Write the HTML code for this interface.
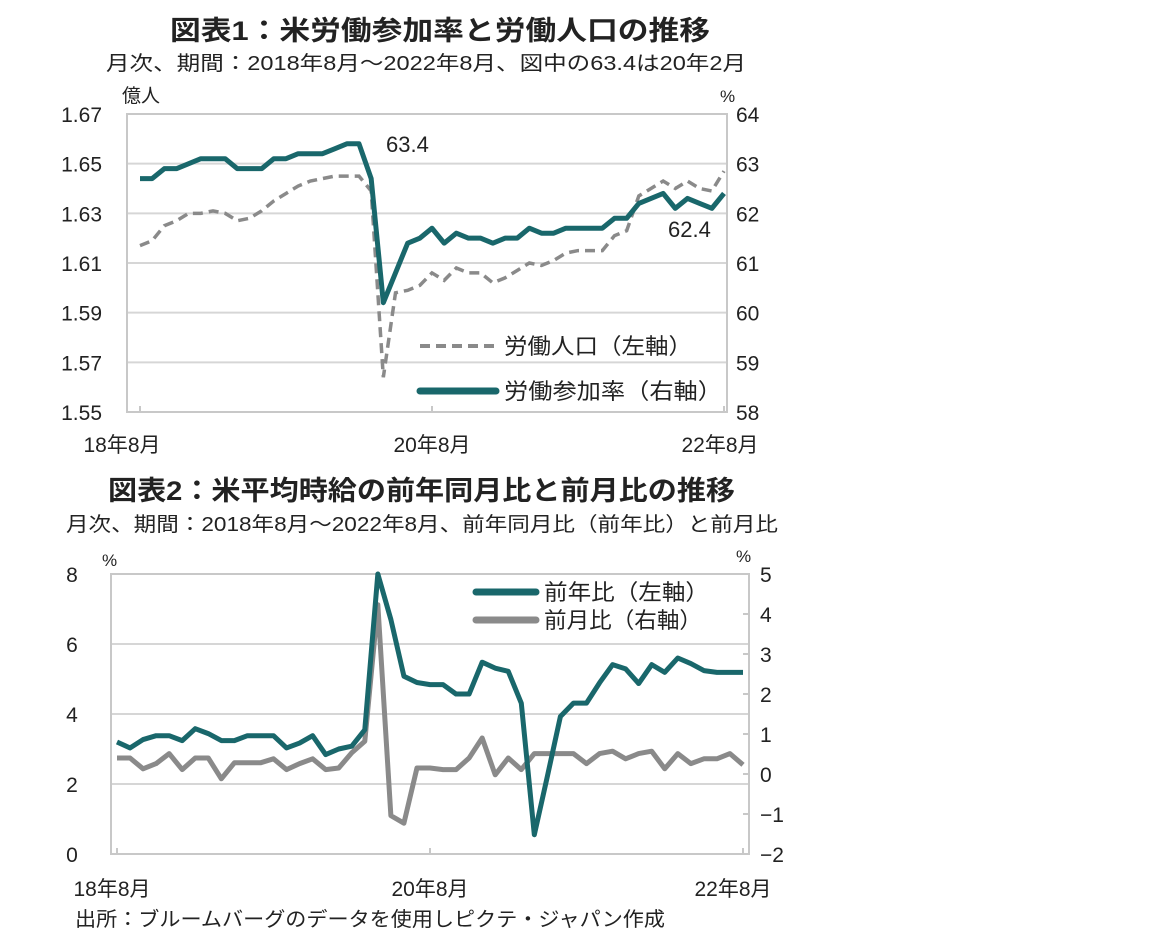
<!DOCTYPE html>
<html><head><meta charset="utf-8">
<style>
body{margin:0;background:#fff;}
svg text{font-family:"Liberation Sans","Noto Sans CJK JP",sans-serif;fill:#222;}
</style></head>
<body>
<svg id="root" width="1152" height="945" viewBox="0 0 1152 945" xmlns="http://www.w3.org/2000/svg">
<text x="170" y="40" font-size="27" font-weight="bold" textLength="540" lengthAdjust="spacingAndGlyphs">図表1：米労働参加率と労働人口の推移</text>
<text x="106" y="70" font-size="20" textLength="640" lengthAdjust="spacingAndGlyphs">月次、期間：2018年8月～2022年8月、図中の63.4は20年2月</text>
<text x="122" y="102" font-size="19">億人</text>
<text x="720" y="102" font-size="17">%</text>
<g id="c1"></g>
<text x="108" y="500" font-size="27" font-weight="bold" textLength="627" lengthAdjust="spacingAndGlyphs">図表2：米平均時給の前年同月比と前月比の推移</text>
<text x="66" y="531" font-size="20" textLength="712" lengthAdjust="spacingAndGlyphs">月次、期間：2018年8月～2022年8月、前年同月比（前年比）と前月比</text>
<text x="102" y="566" font-size="17">%</text>
<text x="736" y="562" font-size="17">%</text>
<g id="c2"></g>
<text x="75" y="926" font-size="20" textLength="590" lengthAdjust="spacingAndGlyphs">出所：ブルームバーグのデータを使用しピクテ・ジャパン作成</text>
</svg>
<script>
const lfprVals=[62.7,62.7,62.9,62.9,63.0,63.1,63.1,63.1,62.9,62.9,62.9,63.1,63.1,63.2,63.2,63.2,63.3,63.4,63.4,62.7,60.2,60.8,61.4,61.5,61.7,61.4,61.6,61.5,61.5,61.4,61.5,61.5,61.7,61.6,61.6,61.7,61.7,61.7,61.7,61.9,61.9,62.2,62.3,62.4,62.1,62.3,62.2,62.1,62.4];
const laborVals=[1.617,1.619,1.625,1.627,1.630,1.630,1.631,1.630,1.627,1.628,1.631,1.635,1.638,1.641,1.643,1.644,1.645,1.645,1.645,1.639,1.564,1.598,1.599,1.601,1.606,1.603,1.608,1.606,1.606,1.602,1.604,1.607,1.610,1.609,1.611,1.614,1.615,1.615,1.615,1.621,1.623,1.637,1.640,1.643,1.640,1.643,1.640,1.639,1.647];
const leftTicks1=[1.55,1.57,1.59,1.61,1.63,1.65,1.67];
const rightTicks1=[58,59,60,61,62,63,64];
const yoyVals=[3.2,3.03,3.27,3.38,3.38,3.24,3.58,3.44,3.24,3.24,3.38,3.38,3.38,3.03,3.17,3.38,2.84,3.0,3.08,3.55,8.0,6.7,5.08,4.9,4.84,4.84,4.57,4.57,5.48,5.31,5.22,4.31,0.55,2.22,3.93,4.31,4.31,4.89,5.41,5.29,4.87,5.41,5.19,5.6,5.44,5.24,5.19,5.19,5.19];
const momVals=[0.4,0.4,0.13,0.26,0.51,0.11,0.4,0.4,-0.12,0.28,0.28,0.28,0.38,0.11,0.26,0.38,0.11,0.15,0.53,0.82,4.23,-1.04,-1.23,0.15,0.15,0.11,0.11,0.4,0.9,-0.02,0.4,0.11,0.51,0.51,0.51,0.51,0.26,0.51,0.57,0.38,0.51,0.57,0.13,0.51,0.26,0.38,0.38,0.51,0.23];
const leftTicks2=[0,2,4,6,8];
const rightTicks2=[-2,-1,0,1,2,3,4,5];
const xLabels=["18年8月","20年8月","22年8月"];
const xLabelIdx=[0,24,48];

const NS="http://www.w3.org/2000/svg";
function mk(p,tag,a){const e=document.createElementNS(NS,tag);for(const k in a)e.setAttribute(k,a[k]);p.appendChild(e);return e;}

// Chart 1
(function(){
const g=document.getElementById('c1');
const L=127,R=727,T=114,B=412,x0=140,x1=724;
const x=i=>x0+(x1-x0)*i/(lfprVals.length-1);
const yL=v=>B-(v-1.55)/(0.12)*(B-T);
const yR=v=>B-(v-58)/6*(B-T);
leftTicks1.forEach(v=>{
 const gl=mk(g,'line',{x1:L,x2:R,y1:yL(v),y2:yL(v),stroke:'#d6d6d6','stroke-width':2});
 
 
 const t=mk(g,'text',{x:102,y:yL(v)+8,'text-anchor':'end','font-size':21});t.textContent=v.toFixed(2);
 
 
});
rightTicks1.forEach(v=>{
 const t=mk(g,'text',{x:736,y:yR(v)+8,'font-size':21});t.textContent=v;
 
 
});
const fr=mk(g,'rect',{x:L,y:T,width:R-L,height:B-T,fill:'none',stroke:'#c8c8c8','stroke-width':2});


xLabelIdx.forEach((i,k)=>{
 mk(g,'line',{x1:x(i),x2:x(i),y1:B,y2:B-6,stroke:'#c8c8c8','stroke-width':2});
 const t=mk(g,'text',{x:k==0?122:(k==2?720:x(i)),y:452,'text-anchor':'middle','font-size':21});t.textContent=xLabels[k];
 
 
});
const p1=mk(g,'polyline',{points:laborVals.map((v,i)=>x(i)+','+yL(v)).join(' '),fill:'none',stroke:'#8a8a8a','stroke-width':3.5,'stroke-dasharray':'10,6'});


const p2=mk(g,'polyline',{points:lfprVals.map((v,i)=>x(i)+','+yR(v)).join(' '),fill:'none',stroke:'#19676b','stroke-width':5,'stroke-linejoin':'round'});


const a1=mk(g,'text',{x:386,y:152,'font-size':22});a1.textContent='63.4';


const a2=mk(g,'text',{x:668,y:237,'font-size':22});a2.textContent='62.4';


const l1=mk(g,'line',{x1:420,x2:496,y1:346,y2:346,stroke:'#8a8a8a','stroke-width':4,'stroke-dasharray':'10,6'});


const lt1=mk(g,'text',{x:504,y:354,'font-size':22,textLength:188,lengthAdjust:'spacingAndGlyphs'});lt1.textContent='労働人口（左軸）';


const l2=mk(g,'line',{x1:420,x2:496,y1:391,y2:391,stroke:'#19676b','stroke-width':7,'stroke-linecap':'round'});


const lt2=mk(g,'text',{x:504,y:399,'font-size':22,textLength:218,lengthAdjust:'spacingAndGlyphs'});lt2.textContent='労働参加率（右軸）';


})();

// Chart 2
(function(){
const g=document.getElementById('c2');
const L=111,R=749,T=574,B=854,x0=117,x1=743;
const x=i=>x0+(x1-x0)*i/(yoyVals.length-1);
const yL=v=>B-v/8*(B-T);
const yR=v=>B-(v+2)/7*(B-T);
leftTicks2.forEach(v=>{
 const gl=mk(g,'line',{x1:L,x2:R,y1:yL(v),y2:yL(v),stroke:'#d6d6d6','stroke-width':2});
 
 
 const t=mk(g,'text',{x:72,y:yL(v)+8,'text-anchor':'middle','font-size':21});t.textContent=v;
 
 
});
rightTicks2.forEach(v=>{
 mk(g,'line',{x1:R,x2:R-6,y1:yR(v),y2:yR(v),stroke:'#c8c8c8','stroke-width':2});
 const t=mk(g,'text',{x:760,y:yR(v)+8,'font-size':21});t.textContent=v<0?'−'+(-v):v;
 
 
});
const fr=mk(g,'rect',{x:L,y:T,width:R-L,height:B-T,fill:'none',stroke:'#c8c8c8','stroke-width':2});


xLabelIdx.forEach((i,k)=>{
 mk(g,'line',{x1:x(i),x2:x(i),y1:B,y2:B-6,stroke:'#c8c8c8','stroke-width':2});
 const t=mk(g,'text',{x:k==0?112:(k==2?733:x(i)),y:896,'text-anchor':'middle','font-size':21});t.textContent=xLabels[k];
 
 
});
const p1=mk(g,'polyline',{points:momVals.map((v,i)=>x(i)+','+yR(v)).join(' '),fill:'none',stroke:'#8a8a8a','stroke-width':5,'stroke-linejoin':'round'});


const p2=mk(g,'polyline',{points:yoyVals.map((v,i)=>x(i)+','+yL(v)).join(' '),fill:'none',stroke:'#19676b','stroke-width':5,'stroke-linejoin':'round'});


const l1=mk(g,'line',{x1:476,x2:536,y1:592,y2:592,stroke:'#19676b','stroke-width':7,'stroke-linecap':'round'});


const lt1=mk(g,'text',{x:544,y:600,'font-size':22,textLength:165,lengthAdjust:'spacingAndGlyphs'});lt1.textContent='前年比（左軸）';


const l2=mk(g,'line',{x1:476,x2:536,y1:620,y2:620,stroke:'#8a8a8a','stroke-width':7,'stroke-linecap':'round'});


const lt2=mk(g,'text',{x:544,y:628,'font-size':22,textLength:158,lengthAdjust:'spacingAndGlyphs'});lt2.textContent='前月比（右軸）';


})();
</script>
</body></html>
